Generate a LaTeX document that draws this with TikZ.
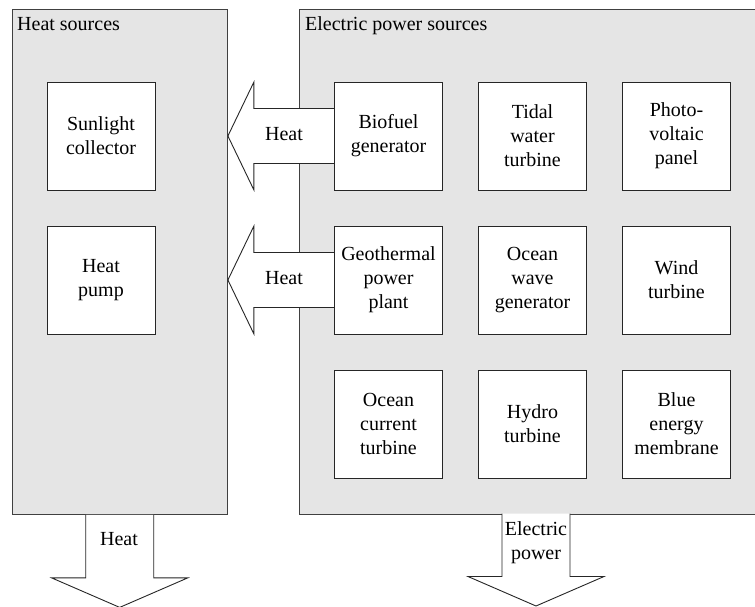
\documentclass[tikz,border=0pt]{standalone}
\usepackage{fontspec}
\setmainfont{Liberation Serif}
\usetikzlibrary{calc}
\pgfdeclarelayer{back}
\pgfdeclarelayer{mid}
\pgfsetlayers{back,mid,main}
\begin{document}
\begin{tikzpicture}[x=1pt,y=-1pt,
  every node/.style={font=\fontsize{20}{24}\selectfont},
  group/.style={draw=black!75, fill=black!10, line width=0.9pt, inner sep=0pt, anchor=north west},
  unit/.style={draw=black!85, fill=white, line width=0.9pt, minimum width=108pt,
    minimum height=108pt, inner sep=0pt, align=center},
  flow/.style={draw=black!85, fill=white, line width=0.9pt, line join=miter},
  caption/.style={inner sep=0pt, anchor=base west},
  flowlabel/.style={inner sep=0pt, align=center}]
\useasboundingbox (0,0) rectangle (755,607);

% source groups
\begin{pgfonlayer}{back}
  \node[group, minimum width=215.5pt, minimum height=504.5pt] (heatsrc) at (11.5,9.5) {};
  \node[group, minimum width=474pt, minimum height=504pt] (elecsrc) at (299,9.5) {};
\end{pgfonlayer}
\node[caption] (heatcap) at (17,31) {Heat sources};
\node[caption] (eleccap) at (305,31) {Electric power sources};

% heat sources
\node[unit] (sun)  at (101,136) {Sunlight\\collector};
\node[unit] (pump) at (101,280) {Heat\\pump};

% electric power sources
\node[unit] (bio)   at (388.5,136) {Biofuel\\generator};
\node[unit] (tidal) at (532.5,136) {Tidal\\water\\turbine};
\node[unit] (pv)    at (676.5,136) {Photo-\\voltaic\\panel};
\node[unit] (geo)   at (388.5,280) {Geothermal\\power\\plant};
\node[unit] (wave)  at (532.5,280) {Ocean\\wave\\generator};
\node[unit] (wind)  at (676.5,280) {Wind\\turbine};
\node[unit] (curr)  at (388.5,424) {Ocean\\current\\turbine};
\node[unit] (hydro) at (532.5,424) {Hydro\\turbine};
\node[unit] (blue)  at (676.5,424) {Blue\\energy\\membrane};

% heat flows into the heat sources group
\coordinate (t1) at (heatsrc.east |- bio.west);
\coordinate (t2) at (heatsrc.east |- geo.west);
\begin{pgfonlayer}{mid}
  \draw[flow] ($(bio.west)+(0,-27.5)$) -- ($(t1)+(26,-27.5)$) -- ($(t1)+(26,-54)$)
    -- (t1) -- ($(t1)+(26,54)$) -- ($(t1)+(26,27.5)$) -- ($(bio.west)+(0,27.5)$);
  \draw[flow] ($(geo.west)+(0,-27.5)$) -- ($(t2)+(26,-27.5)$) -- ($(t2)+(26,-54)$)
    -- (t2) -- ($(t2)+(26,54)$) -- ($(t2)+(26,27.5)$) -- ($(geo.west)+(0,27.5)$);
\end{pgfonlayer}
\node[flowlabel] (h1) at (284,134) {Heat};
\node[flowlabel] (h2) at (284,278) {Heat};

% outputs
\coordinate (hout) at (heatsrc.south);
\coordinate (eout) at (536,513.5);
\begin{pgfonlayer}{mid}
  \draw[flow] ($(hout)+(-34,0)$) -- ($(hout)+(-34,63)$) -- ($(hout)+(-68,63)$)
    -- ($(hout)+(0,92.5)$) -- ($(hout)+(68,63)$) -- ($(hout)+(34,63)$) -- ($(hout)+(34,0)$);
  \draw[flow] ($(eout)+(-34,0)$) -- ($(eout)+(-34,63)$) -- ($(eout)+(-68,63)$)
    -- ($(eout)+(0,92.5)$) -- ($(eout)+(68,63)$) -- ($(eout)+(34,63)$) -- ($(eout)+(34,0)$);
\end{pgfonlayer}
\node[flowlabel] (hlab) at (119,539) {Heat};
\node[flowlabel] (elab) at (536,543) {Electric\\power};
\end{tikzpicture}
\end{document}
